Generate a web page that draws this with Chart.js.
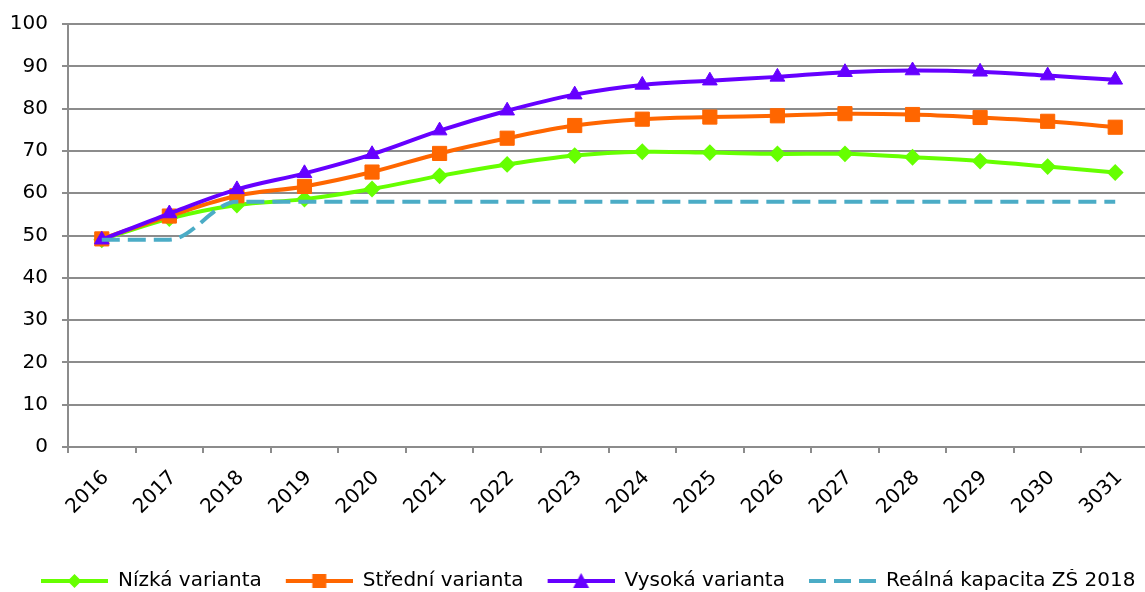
<!DOCTYPE html>
<html>
<head>
<meta charset="utf-8">
<script src="https://cdn.jsdelivr.net/npm/chart.js@4/dist/chart.umd.min.js"></script>
<style>
html,body{margin:0;padding:0;background:#fff;overflow:hidden;}
#wrap{width:1160px;height:592px;}
</style>
</head>
<body>
<div id="wrap"><canvas id="c" width="1160" height="592"></canvas></div>
<script>
const years = ['2016','2017','2018','2019','2020','2021','2022','2023','2024','2025','2026','2027','2028','2029','2030','3031'];
const nizka = [49, 54, 57.2, 58.6, 61, 64.1, 66.8, 68.9, 69.8, 69.6, 69.3, 69.3, 68.5, 67.6, 66.3, 64.9];
const stredni = [49.2, 54.6, 59.4, 61.6, 65, 69.4, 73, 76, 77.5, 78, 78.3, 78.8, 78.6, 77.9, 77, 75.6];
const vysoka = [49, 55.2, 60.9, 64.7, 69.2, 74.8, 79.5, 83.3, 85.6, 86.6, 87.5, 88.6, 89, 88.7, 87.8, 86.8];
const kapacita = [49, 49, 58, 58, 58, 58, 58, 58, 58, 58, 58, 58, 58, 58, 58, 58];
const seriesNames = ['Nízká varianta', 'Střední varianta', 'Vysoká varianta', 'Reálná kapacita ZŠ 2018'];
const yTicks = [0,10,20,30,40,50,60,70,80,90,100];

const GREEN = '#66FF00', ORANGE = '#FF6600', PURPLE = '#6600FF', CYAN = '#4BACC6';
const GRID = '#8c8c8c';
const FONT = 'DejaVu Sans';
const FS = 20;

function legendImg(color, marker, dashed) {
  const cv = document.createElement('canvas');
  cv.width = 89; cv.height = 20;
  const g = cv.getContext('2d');
  g.clearRect(0, 0, cv.width, cv.height);
  g.strokeStyle = color; g.lineWidth = 4; g.lineCap = 'butt';
  if (dashed) g.setLineDash([17, 8]);
  g.beginPath(); g.moveTo(22, 10); g.lineTo(89, 10); g.stroke();
  g.setLineDash([]);
  g.fillStyle = color;
  const cx = 55.5, cy = 10;
  if (marker === 'diamond') {
    g.beginPath(); g.moveTo(cx, cy-7); g.lineTo(cx+7, cy); g.lineTo(cx, cy+7); g.lineTo(cx-7, cy); g.closePath(); g.fill();
  } else if (marker === 'square') {
    g.fillRect(cx-7, cy-7, 14, 14);
  } else if (marker === 'triangle') {
    g.beginPath(); g.moveTo(cx, cy-8); g.lineTo(cx+8, cy+7); g.lineTo(cx-8, cy+7); g.closePath(); g.fill();
  }
  return cv;
}
const legendImages = [
  legendImg(GREEN, 'diamond'),
  legendImg(ORANGE, 'square'),
  legendImg(PURPLE, 'triangle'),
  legendImg(CYAN, null, true)
];

const common = {borderWidth: 4, tension: 0.35, fill: false};

new Chart(document.getElementById('c'), {
  type: 'line',
  data: {
    labels: years,
    datasets: [
      Object.assign({label: seriesNames[0], data: nizka, borderColor: GREEN, backgroundColor: GREEN, order: 3,
        pointStyle: 'rectRot', pointRadius: 7, pointBorderWidth: 2, pointHoverRadius: 7}, common),
      Object.assign({label: seriesNames[1], data: stredni, borderColor: ORANGE, backgroundColor: ORANGE, order: 2,
        pointStyle: 'rect', pointRadius: 10, pointBorderWidth: 1, pointHoverRadius: 10}, common),
      Object.assign({label: seriesNames[2], data: vysoka, borderColor: PURPLE, backgroundColor: PURPLE, order: 1,
        pointStyle: 'triangle', pointRadius: 8.5, pointBorderWidth: 1, pointHoverRadius: 8.5}, common),
      Object.assign({label: seriesNames[3], data: kapacita, borderColor: CYAN, backgroundColor: CYAN, order: 0,
        borderDash: [18, 8], pointRadius: 0, pointHoverRadius: 0, cubicInterpolationMode: 'monotone'}, common)
    ]
  },
  options: {
    responsive: false,
    animation: false,
    layout: {padding: {left: 17, right: 4, top: 22, bottom: -9}},
    plugins: {
      title: {display: false},
      tooltip: {enabled: false},
      legend: {
        position: 'bottom',
        align: 'start',
        labels: {
          usePointStyle: true,
          pointStyleWidth: 89,
          boxHeight: 20,
          padding: 2,
          color: '#000',
          font: {family: FONT, size: FS},
          generateLabels: function(chart) {
            const items = Chart.defaults.plugins.legend.labels.generateLabels(chart);
            items.sort((a, b) => a.datasetIndex - b.datasetIndex);
            items.forEach((it) => { it.pointStyle = legendImages[it.datasetIndex]; it.lineWidth = 0; });
            return items;
          }
        }
      }
    },
    scales: {
      x: {
        offset: true,
        grid: {display: true, drawOnChartArea: false, drawTicks: true, tickLength: 6, color: GRID, lineWidth: 2, offset: true},
        border: {display: true, color: GRID, width: 2},
        ticks: {color: '#000', font: {family: FONT, size: FS}, minRotation: 45, maxRotation: 45, autoSkip: false, padding: 13, labelOffset: 4},
        afterFit: function(s) { s.height = 122; }
      },
      y: {
        min: 0, max: 100,
        afterBuildTicks: function(s) { s.ticks = yTicks.map(v => ({value: v})); },
        grid: {color: GRID, lineWidth: 2, tickLength: 6},
        border: {display: true, color: GRID, width: 2},
        ticks: {color: '#000', font: {family: FONT, size: FS, lineHeight: 1}, padding: 14},
        afterFit: function(s) { s.width = 51; s._computeLabelArea = function() { return undefined; }; }
      }
    }
  }
});
</script>
</body>
</html>
